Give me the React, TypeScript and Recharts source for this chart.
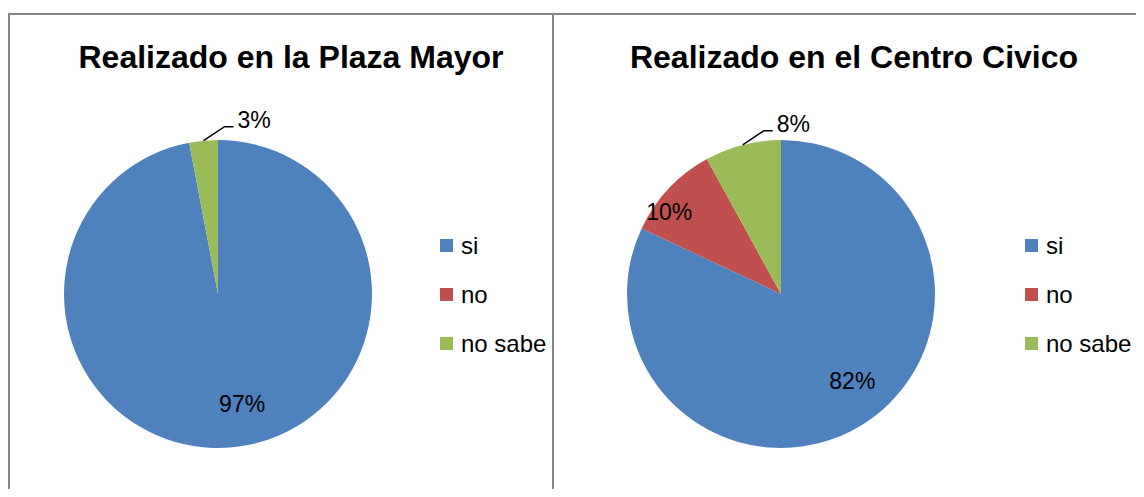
import { PieChart, Pie, Cell, Legend } from 'recharts';

const categories = ['si', 'no', 'no sabe'];
const colors = ['#4F81BD', '#C0504D', '#9BBB59'];
const plazaValues = [97, 0, 3];
const centroValues = [82, 10, 8];
const titles = ['Realizado en la Plaza Mayor', 'Realizado en el Centro Civico'];

const FONT = '"Liberation Sans", Arial, sans-serif';
const RADIAN = Math.PI / 180;
const BORDER = '2px solid #878787';

const toRows = (values: number[]) => categories.map((name, i) => ({ name, value: values[i] }));

function renderLabel(props: any) {
  const { cx, cy, midAngle, outerRadius, percent, index } = props;
  if (!percent) return null;
  const text = `${Math.round(percent * 100)}%`;
  if (percent < 0.09) {
    // small slice: label outside with a bent leader line
    const ex = cx + outerRadius * Math.cos(-midAngle * RADIAN);
    const ey = cy + outerRadius * Math.sin(-midAngle * RADIAN);
    const mx = ex + 21;
    const my = ey - 14;
    return (
      <g>
        <polyline points={`${ex},${ey} ${mx},${my} ${mx + 9},${my}`} fill="none" stroke="#000" strokeWidth={1.5} />
        <text x={mx + 13} y={my - 7} dominantBaseline="central" fontFamily={FONT} fontSize={23} fill="#000">
          {text}
        </text>
      </g>
    );
  }
  // excel's "best fit" nudges inside labels a little counter-clockwise
  const a = (midAngle + 7) * RADIAN;
  const r = outerRadius * (index === 0 ? 0.73 : 0.9);
  return (
    <text x={cx + r * Math.cos(-a)} y={cy + r * Math.sin(-a)} textAnchor="middle" dominantBaseline="central"
      fontFamily={FONT} fontSize={23} fill="#000">
      {text}
    </text>
  );
}

function LegendBox() {
  return (
    <div style={{ fontFamily: FONT, fontSize: 24, color: '#000' }}>
      {categories.map((name, i) => (
        <div key={name} style={{ display: 'flex', alignItems: 'center', height: 49 }}>
          <span style={{ width: 13, height: 13, background: colors[i], marginRight: 8, display: 'inline-block' }} />
          <span>{name}</span>
        </div>
      ))}
    </div>
  );
}

function Panel({ title, values, cx, titleCenter, legendLeft }: any) {
  return (
    <>
      <div style={{
        position: 'absolute', left: 0, width: titleCenter * 2, top: 24, textAlign: 'center',
        fontFamily: FONT, fontWeight: 'bold', fontSize: 32, lineHeight: '36px', whiteSpace: 'nowrap',
      }}>
        {title}
      </div>
      <PieChart width={590} height={474} style={{ position: 'absolute', left: 0, top: 0 }}>
        <Pie data={toRows(values)} dataKey="value" nameKey="name" cx={cx} cy={274} outerRadius={154}
          startAngle={90} endAngle={-270} stroke="none" label={renderLabel} labelLine={false}
          isAnimationActive={false}>
          {values.map((_: number, i: number) => <Cell key={i} fill={colors[i]} />)}
        </Pie>
        <Legend content={() => <LegendBox />}
          wrapperStyle={{ position: 'absolute', left: legendLeft, top: 206, width: 'auto' }} />
      </PieChart>
    </>
  );
}

export default function App() {
  return (
    <div style={{
      position: 'relative', width: 1136, height: 489, marginRight: -8, marginBottom: -8,
      overflow: 'hidden', background: '#fff',
    }}>
      <div style={{
        position: 'absolute', left: 0, top: 5, width: 546, height: 520, border: BORDER,
        boxSizing: 'border-box', overflow: 'hidden',
      }}>
        <Panel title={titles[0]} values={plazaValues} cx={203} titleCenter={281} legendLeft={430} />
      </div>
      <div style={{
        position: 'absolute', left: 546, top: 5, width: 600, height: 520, borderTop: BORDER,
        boxSizing: 'border-box', overflow: 'hidden',
      }}>
        <Panel title={titles[1]} values={centroValues} cx={222} titleCenter={300} legendLeft={471} />
      </div>
    </div>
  );
}
